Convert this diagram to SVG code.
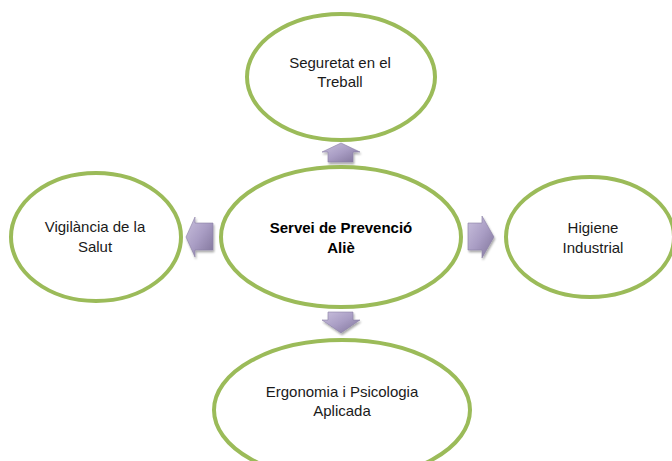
<svg xmlns="http://www.w3.org/2000/svg" width="672" height="461" viewBox="0 0 672 461">
<defs>
<linearGradient id="ga" x1="0" y1="0" x2="1" y2="1">
<stop offset="0" stop-color="#C9C0DD"/>
<stop offset="0.5" stop-color="#A99DC4"/>
<stop offset="1" stop-color="#7F7399"/>
</linearGradient>
<filter id="sh" x="-10%" y="-10%" width="130%" height="130%">
<feGaussianBlur in="SourceAlpha" stdDeviation="1.2"/>
<feOffset dx="1" dy="1.5" result="b"/>
<feComponentTransfer><feFuncA type="linear" slope="0.35"/></feComponentTransfer>
<feMerge><feMergeNode/><feMergeNode in="SourceGraphic"/></feMerge>
</filter>
</defs>
<style>
.n{fill:#fff;stroke:#9BBB59;stroke-width:4}
.t{font-family:"Liberation Sans",Arial,sans-serif;font-size:15px;fill:#1a1a1a;text-anchor:middle}
.b{font-weight:bold;fill:#000}
.a{fill:url(#ga);stroke:#8C82A6;stroke-width:0.6;filter:url(#sh)}
</style>
<rect width="672" height="461" fill="#fff"/>
<g id="connectors">
<polygon class="a" points="341,143 360,152 353,152 353,162 328,162 328,152 322,152"/>
<polygon class="a" points="186,237 195,217 195,223 213,223 213,250 195,250 195,257"/>
<polygon class="a" points="494,237 482,216 482,223 468,223 468,250 482,250 482,258"/>
<polygon class="a" points="341,333 360,320 353,320 353,312 328,312 328,320 322,320"/>
</g>
<g id="center">
<ellipse class="n" cx="341" cy="237" rx="120" ry="70"/>
<text class="t b" x="341" y="233">Servei de Prevenció</text>
<text class="t b" x="341" y="253">Aliè</text>
</g>
<g id="top">
<ellipse class="n" cx="341" cy="77" rx="94" ry="63"/>
<text class="t" x="340" y="68">Seguretat en el</text>
<text class="t" x="340" y="87">Treball</text>
</g>
<g id="left">
<ellipse class="n" cx="96" cy="237" rx="85" ry="64"/>
<text class="t" x="95" y="232">Vigilància de la</text>
<text class="t" x="95" y="252">Salut</text>
</g>
<g id="right">
<ellipse class="n" cx="590" cy="237" rx="84" ry="60"/>
<text class="t" x="593" y="233">Higiene</text>
<text class="t" x="593" y="253">Industrial</text>
</g>
<g id="bottom">
<ellipse class="n" cx="342" cy="410" rx="128" ry="70"/>
<text class="t" x="342" y="397">Ergonomia i Psicologia</text>
<text class="t" x="342" y="416">Aplicada</text>
</g>
</svg>
